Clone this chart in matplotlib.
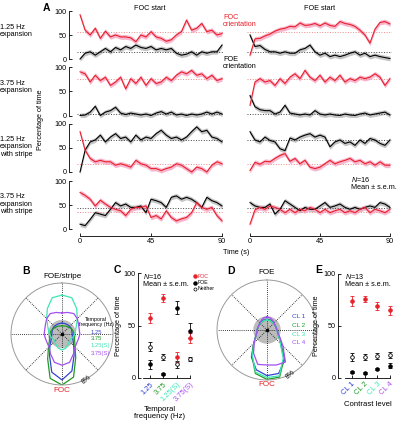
import numpy as np
import matplotlib
matplotlib.use('Agg')
import matplotlib.pyplot as plt

plt.rcParams['font.family'] = ['Liberation Sans', 'DejaVu Sans']
plt.rcParams['mathtext.fontset'] = 'custom'
plt.rcParams['mathtext.it'] = 'Liberation Sans:italic'
plt.rcParams['mathtext.rm'] = 'Liberation Sans'

W, H = 401, 422
RED = '#e8202a'
PINK = '#f7aac6'
GREY = '#c4c4c4'
BLUE = '#3444d0'
GREEN = '#1f9a24'
AQUA = '#3ee6b4'
PURPLE = '#a44ff0'
FS = 5.2

# ---- panel A: percentage of time, FOC (red) and FOE (black) orientation
# row 1: 1.25 Hz expansion
r1_foc_L = [92, 60, 50, 64, 43, 58, 46, 50, 46, 46, 44, 36, 50, 46, 57, 46, 43, 37, 40, 50, 57, 81, 60, 64, 74, 57, 60, 50, 53]
r1_foe_L = [0, 12, 15, 8, 15, 22, 15, 24, 19, 26, 22, 29, 24, 22, 26, 19, 22, 19, 22, 12, 8, 10, 15, 8, 15, 12, 15, 15, 29]
r1_foc_R = [8, 42, 43, 48, 52, 58, 62, 64, 68, 67, 75, 70, 71, 74, 69, 75, 70, 68, 78, 74, 72, 68, 60, 50, 33, 62, 76, 78, 73]
r1_foe_R = [50, 26, 28, 20, 15, 15, 12, 15, 12, 12, 19, 22, 29, 15, 8, 12, 5, 8, 5, 8, 12, 15, 8, 12, 5, 8, 5, 3, 1]
# row 2: 3.75 Hz expansion
r2_foc_L = [90, 86, 69, 83, 72, 79, 62, 69, 79, 55, 76, 66, 79, 62, 76, 66, 69, 79, 72, 83, 90, 86, 93, 83, 86, 76, 83, 72, 76]
r2_foe_L = [0, 1, 7, 19, 0, 7, 10, 17, 5, 2, 5, 3, 1, 3, 0, 5, 8, 3, 7, 1, 3, 0, 3, 1, 3, 7, 3, 7, 3]
r2_foc_R = [21, 69, 76, 69, 72, 62, 76, 66, 79, 86, 76, 93, 79, 72, 83, 69, 79, 72, 83, 69, 76, 72, 79, 76, 79, 86, 79, 62, 76]
r2_foe_R = [41, 18, 12, 10, 10, 3, 7, 21, 5, 3, 1, 3, 1, 10, 3, 1, 3, 1, 0, 3, 1, 0, 3, 5, 1, 3, 5, 7, 1]
# row 3: 1.25 Hz expansion with stripe
r3_foc_L = [83, 45, 28, 21, 24, 21, 21, 14, 17, 14, 10, 24, 17, 14, 7, 7, 3, 7, 10, 17, 14, 7, 0, 10, 7, 0, 14, 21, 17]
r3_foe_L = [0, 45, 62, 66, 76, 62, 72, 79, 69, 72, 62, 76, 66, 72, 69, 79, 86, 76, 69, 72, 66, 72, 83, 93, 83, 86, 72, 69, 62]
r3_foc_R = [3, 20, 16, 22, 21, 28, 34, 38, 22, 28, 17, 24, 10, 7, 10, 17, 24, 17, 21, 24, 28, 21, 24, 17, 21, 14, 21, 14, 14]
r3_foe_R = [83, 66, 62, 72, 65, 62, 48, 44, 70, 66, 72, 76, 79, 72, 76, 72, 52, 62, 66, 59, 62, 55, 66, 59, 69, 66, 59, 55, 66]
# row 4: 3.75 Hz expansion with stripe
r4_foc_L = [76, 70, 62, 48, 60, 52, 45, 41, 38, 28, 41, 45, 45, 48, 24, 28, 21, 38, 24, 17, 21, 24, 34, 55, 45, 41, 45, 28, 17]
r4_foe_L = [10, 7, 20, 34, 31, 28, 41, 55, 48, 52, 45, 45, 48, 34, 62, 59, 55, 45, 66, 69, 62, 66, 62, 55, 45, 66, 59, 55, 48]
r4_foc_R = [10, 40, 45, 41, 48, 45, 41, 34, 41, 34, 41, 38, 45, 41, 34, 41, 34, 38, 41, 34, 38, 34, 41, 45, 34, 41, 38, 34, 41]
r4_foe_R = [55, 48, 45, 45, 52, 31, 41, 59, 52, 45, 38, 45, 41, 41, 48, 55, 45, 48, 52, 45, 41, 45, 41, 45, 48, 45, 55, 52, 45]
mean_foc = [57, 76, 17, 36]
mean_foe = [14, 3, 66, 43]
sem_band = 5
row_labels = ['1.25 Hz\nexpansion', '3.75 Hz\nexpansion',
              '1.25 Hz\nexpansion\nwith stripe', '3.75 Hz\nexpansion\nwith stripe']

# ---- panel B: polar distributions by temporal frequency (%)
pol_angles = list(range(0, 360, 15))
b_125 = [1.7, 1.7, 1.7, 1.7, 1.7, 1.6, 1.6, 1.7, 2.0, 2.6, 3.8, 6.0, 7.2, 6.2, 3.9, 2.7, 2.0, 1.7, 1.6, 1.6, 1.7, 1.7, 1.7, 1.7]
b_375 = [1.3, 1.3, 1.4, 1.5, 1.7, 1.8, 1.9, 2.0, 2.3, 2.9, 4.3, 7.0, 8.0, 7.2, 4.5, 3.0, 2.3, 2.0, 1.9, 1.8, 1.6, 1.5, 1.4, 1.3]
b_125s = [6.1, 5.9, 4.6, 3.4, 2.6, 2.2, 2.0, 1.8, 1.6, 1.6, 1.9, 2.3, 2.5, 2.3, 1.9, 1.6, 1.6, 1.8, 2.0, 2.2, 2.6, 3.4, 4.6, 5.9]
b_375s = [3.3, 3.5, 3.7, 3.4, 3.0, 2.8, 2.8, 2.7, 2.7, 2.9, 3.6, 4.6, 4.9, 4.6, 3.6, 2.9, 2.7, 2.7, 2.8, 2.8, 3.0, 3.4, 3.7, 3.5]
tf_labels = ['1.25', '3.75', '1.25(S)', '3.75(S)']
tf_colors = [BLUE, GREEN, AQUA, PURPLE]

# ---- panel C: mean percentage of time
tf_foc = [57, 76, 20, 38]
tf_foc_err = [5, 4, 5, 5]
tf_foe = [13, 4, 67, 45]
tf_foe_err = [4, 1, 6, 7]
tf_nei = [30, 20, 13, 18]
tf_nei_err = [4, 3, 3, 2]

# ---- panel D: polar distributions by contrast level (%)
d_cl1 = [1.7, 1.7, 1.6, 1.5, 1.5, 1.5, 1.6, 1.8, 2.2, 3.2, 5.6, 7.2, 7.3, 6.6, 5.0, 3.0, 2.1, 1.7, 1.6, 1.5, 1.5, 1.5, 1.6, 1.7]
d_cl2 = [1.6, 1.6, 1.5, 1.5, 1.5, 1.5, 1.6, 1.8, 2.2, 3.1, 5.4, 7.8, 7.9, 7.2, 4.8, 3.0, 2.1, 1.7, 1.6, 1.5, 1.5, 1.5, 1.5, 1.6]
d_cl3 = [1.6, 1.6, 1.5, 1.5, 1.5, 1.5, 1.6, 1.8, 2.2, 3.0, 5.2, 7.6, 7.6, 7.0, 4.7, 2.9, 2.1, 1.7, 1.6, 1.5, 1.5, 1.5, 1.5, 1.6]
d_cl4 = [2.1, 2.0, 1.8, 1.6, 1.5, 1.5, 1.6, 1.8, 2.4, 3.6, 5.9, 5.8, 5.6, 5.7, 4.3, 2.9, 2.1, 1.7, 1.6, 1.5, 1.5, 1.6, 1.8, 2.0]
cl_labels = ['CL 1', 'CL 2', 'CL 3', 'CL 4']

# ---- panel E
cl_foc = [74, 76, 69, 65]
cl_foc_err = [5, 3, 4, 4]
cl_foe = [6, 5, 9, 12]
cl_foe_err = [1, 1, 1, 2]
cl_nei = [20, 20, 21, 22]
cl_nei_err = [4, 3, 3, 3]


def box(x0, y0, x1, y1):
    return [x0 / W, 1 - y1 / H, (x1 - x0) / W, (y1 - y0) / H]


def ftext(x, y, s, **kw):
    kw.setdefault('fontsize', FS)
    kw.setdefault('ha', 'left')
    kw.setdefault('va', 'center')
    fig.text(x / W, 1 - y / H, s, **kw)


fig = plt.figure(figsize=(W / 100, H / 100), dpi=100)

# ---------------- A
series = [((r1_foc_L, r1_foe_L), (r1_foc_R, r1_foe_R)),
          ((r2_foc_L, r2_foe_L), (r2_foc_R, r2_foe_R)),
          ((r3_foc_L, r3_foe_L), (r3_foc_R, r3_foe_R)),
          ((r4_foc_L, r4_foe_L), (r4_foc_R, r4_foe_R))]
row_px = [(11, 59), (67, 115.5), (123.5, 172), (181, 229)]
col_px = [(69, 223.6), (239.1, 391.5)]
YLO, YHI = -4, 104
for i, (y100, y0) in enumerate(row_px):
    s = (y0 - y100) / 100
    for j, (x0, x1) in enumerate(col_px):
        ax = fig.add_axes(box(x0, y100 - (YHI - 100) * s, x1, y0 - YLO * s))
        ax.set_xlim(-7, 91)
        ax.set_ylim(YLO, YHI)
        ax.patch.set_alpha(0)
        foc = np.array(series[i][j][0], float)
        foe = np.array(series[i][j][1], float)
        t = np.linspace(0, 90, len(foc))
        ax.hlines(mean_foc[i], -2, 91, colors='#f08a8a', linestyles=':', lw=0.7)
        ax.hlines(mean_foe[i], -2, 91, colors='#444444', linestyles=':', lw=0.7)
        ax.fill_between(t, foe - sem_band, foe + sem_band, color=GREY, lw=0)
        ax.fill_between(t, foc - sem_band, foc + sem_band, color=PINK, lw=0, alpha=0.85)
        ax.plot(t, foe, color='k', lw=0.8)
        ax.plot(t, foc, color=RED, lw=0.8)
        for sp in ['top', 'right']:
            ax.spines[sp].set_visible(False)
        if j == 0:
            ax.spines['left'].set_bounds(0, 100)
            ax.spines['left'].set_linewidth(0.6)
            ax.set_yticks([0, 50, 100])
            ax.tick_params(axis='y', direction='in', length=2, width=0.6, labelsize=FS, pad=1.5)
        else:
            ax.spines['left'].set_visible(False)
            ax.set_yticks([])
        if i == 3:
            ax.spines['bottom'].set_bounds(0, 90)
            ax.spines['bottom'].set_linewidth(0.6)
            ax.spines['bottom'].set_position(('outward', 3.5))
            ax.set_xticks([0, 45, 90])
            ax.tick_params(axis='x', direction='in', length=2, width=0.6, labelsize=FS, pad=1.5)
        else:
            ax.spines['bottom'].set_visible(False)
            ax.set_xticks([])
    ftext(0, (y100 + y0) / 2 - 4 + (3 if i >= 2 else 0), row_labels[i], linespacing=1.1)

ftext(43, 8, 'A', fontsize=7.5, fontweight='bold')
ftext(150, 8, 'FOC start', ha='center')
ftext(320, 8, 'FOE start', ha='center')
ftext(223, 21, 'FOC\norientation', color=RED, linespacing=1.0)
ftext(223, 63, 'FOE\norientation', linespacing=1.0)
ftext(40, 120, 'Percentage of time', rotation=90, ha='center')
ftext(351, 183, '$N$=16\nMean ± s.e.m.', linespacing=1.05)
ftext(236, 253, 'Time (s)', ha='center')


# ---------------- polar panels
def polar_panel(cx, cy, rad, curves, colors, top_label):
    ax = fig.add_axes(box(cx - rad, cy - rad, cx + rad, cy + rad), projection='polar')
    ax.set_theta_zero_location('N')
    ax.set_theta_direction(-1)
    ax.set_ylim(0, 8)
    ax.set_xticks([])
    ax.set_yticks([])
    ax.grid(False)
    ax.spines['polar'].set_color('#9a9a9a')
    ax.spines['polar'].set_linewidth(0.7)
    for a in range(0, 360, 45):
        ax.plot([np.deg2rad(a)] * 2, [0, 8], ls=(0, (1, 1.5)), color='k', lw=0.6)
    th = np.linspace(0, 2 * np.pi, 120)
    ax.fill(th, np.full_like(th, 2.2), color='#a0a0a0', alpha=0.7, lw=0)
    ang = np.deg2rad(np.append(pol_angles, pol_angles[0]))
    for r, c in zip(curves, colors):
        ax.plot(ang, np.append(r, r[0]), color=c, lw=0.9)
    ax.plot([0], [0], 'ko', ms=1.5)
    ax.set_ylim(0, 8)
    ftext(cx, cy - rad - 7, top_label, ha='center', fontsize=5.8)
    ftext(cx, cy + rad + 5, 'FOC', ha='center', color=RED, fontsize=5.8)
    ftext(cx + 0.48 * rad, cy + 0.9 * rad, '8%', rotation=40, ha='center', fontsize=5)


polar_panel(62, 334, 51, [b_125, b_375, b_125s, b_375s], tf_colors, 'FOE/stripe')
ftext(22, 271, 'B', fontsize=7.5, fontweight='bold')
ftext(96, 322, 'Temporal\nfrequency (Hz)', ha='center', fontsize=3.8, linespacing=1.0)
for k, (lab, c) in enumerate(zip(tf_labels, tf_colors)):
    ftext(91, 332 + 7 * k, lab, color=c, fontsize=4.2)

polar_panel(267, 330, 50, [d_cl1, d_cl2, d_cl3, d_cl4], tf_colors, 'FOE')
ftext(227, 271, 'D', fontsize=7.5, fontweight='bold')
for k, (lab, c) in enumerate(zip(cl_labels, tf_colors)):
    ftext(292, 317 + 8.5 * k, lab, color=c, fontsize=4.6)


# ---------------- error bar panels
def err_panel(rect, xlim, foc, foc_e, foe, foe_e, nei, nei_e, labels, spine_lo):
    ax = fig.add_axes(rect)
    ax.patch.set_alpha(0)
    ax.set_xlim(*xlim)
    ax.set_ylim(0, 100)
    x = np.arange(len(foc))
    kw = dict(fmt='o', ms=2.6, capsize=1.3, elinewidth=0.6, capthick=0.6, mew=0.6, clip_on=False)
    ax.errorbar(x, nei, yerr=nei_e, mfc='white', mec='k', ecolor='k', **kw)
    ax.errorbar(x, foe, yerr=foe_e, color='k', **kw)
    ax.errorbar(x, foc, yerr=foc_e, color=RED, **kw)
    for sp in ['top', 'right']:
        ax.spines[sp].set_visible(False)
    ax.spines['left'].set_linewidth(0.6)
    ax.spines['bottom'].set_linewidth(0.6)
    ax.spines['bottom'].set_bounds(spine_lo, 3)
    ax.set_yticks([0, 50, 100])
    ax.set_xticks(x)
    ax.set_xticklabels(labels, rotation=45, ha='right', va='top', rotation_mode='anchor')
    for tl, c in zip(ax.get_xticklabels(), tf_colors):
        tl.set_color(c)
    ax.tick_params(direction='in', length=2, width=0.6, labelsize=FS, pad=1.5)
    ax.tick_params(axis='x', labelsize=5.4, pad=2)
    return ax


err_panel(box(138, 273, 197, 378), (-0.89, 3.5), tf_foc, tf_foc_err, tf_foe, tf_foe_err,
          tf_nei, tf_nei_err, tf_labels, -0.5)
ftext(114, 270, 'C', fontsize=7.5, fontweight='bold')
ftext(119, 326, 'Percentage of time', rotation=90, ha='center')
ftext(143, 280, '$N$=16\nMean ± s.e.m.', linespacing=1.05)
ftext(160, 413, 'Temporal\nfrequency (Hz)', ha='center', fontsize=5.6, linespacing=1.05)
leg = fig.add_axes(box(190, 272, 200, 292))
leg.axis('off')
leg.set_xlim(0, 10)
leg.set_ylim(292, 272)
leg.plot([5], [276], 'o', color=RED, ms=2.2)
leg.plot([5], [283], 'o', color='k', ms=2.2)
leg.plot([5], [289], 'o', mfc='white', mec='k', ms=2.2, mew=0.5)
ftext(198, 276, 'FOC', color=RED, fontsize=3.8)
ftext(198, 283, 'FOE', fontsize=3.8)
ftext(198, 289, 'Neither', fontsize=3.8)

err_panel(box(338, 274, 397, 378), (-1.11, 3.57), cl_foc, cl_foc_err, cl_foe, cl_foe_err,
          cl_nei, cl_nei_err, cl_labels, -0.55)
ftext(315, 270, 'E', fontsize=7.5, fontweight='bold')
ftext(317, 326, 'Percentage of time', rotation=90, ha='center')
ftext(345, 280, '$N$=13\nMean ± s.e.m.', linespacing=1.05)
ftext(368, 404, 'Contrast level', ha='center', fontsize=5.6)

fig.savefig('out.png', dpi=100)
